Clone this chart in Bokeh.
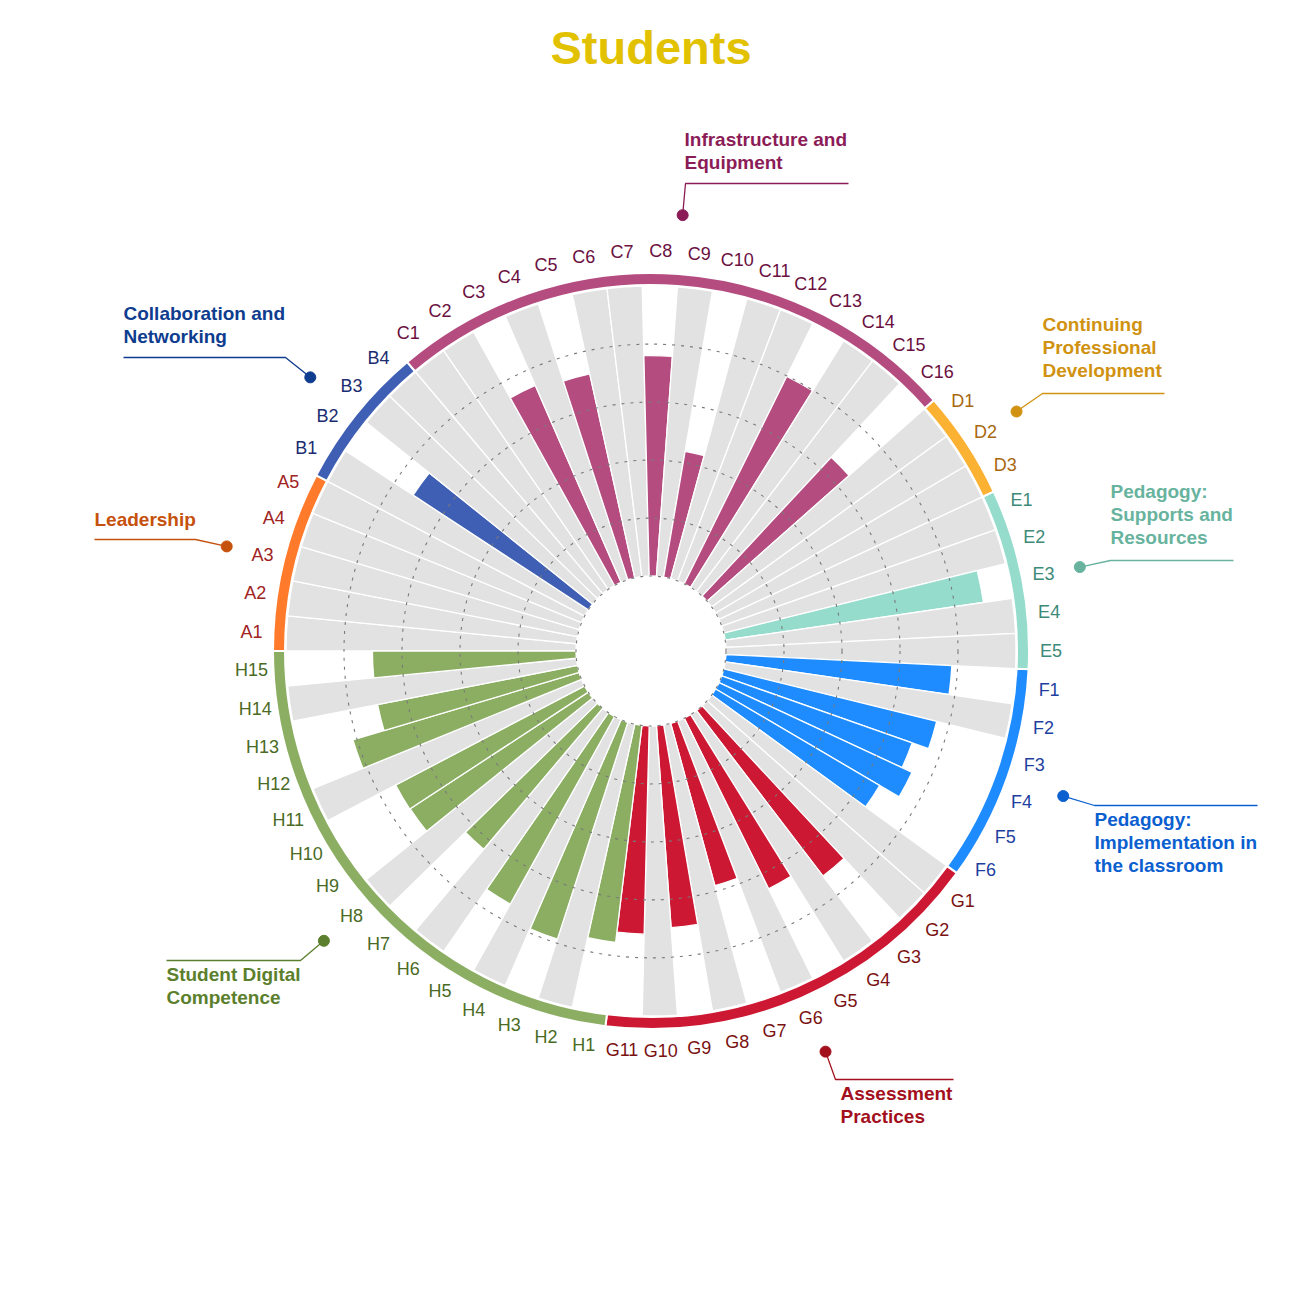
import math
from bokeh.plotting import figure
from bokeh.models import Range1d, ColumnDataSource
from bokeh.embed import file_html
from bokeh.resources import INLINE
from bokeh.core.properties import value

# ---------------- data ----------------
chart_title = "Students"
group_codes = ["A", "B", "C", "D", "E", "F", "G", "H"]
group_titles = [
    ["Leadership"],
    ["Collaboration and", "Networking"],
    ["Infrastructure and", "Equipment"],
    ["Continuing", "Professional", "Development"],
    ["Pedagogy:", "Supports and", "Resources"],
    ["Pedagogy:", "Implementation in", "the classroom"],
    ["Assessment", "Practices"],
    ["Student Digital", "Competence"],
]
# student scores on a 0-5 scale; None = item not answered by students (grey)
scores_A = [None, None, None, None, None]
scores_B = [None, 3.61, None, None]
scores_C = [None, None, 3.70, None, 3.60, None, None, 3.80, None, 2.20, None, None, 3.99, None, None, 3.27]
scores_D = [None, None, None]
scores_E = [None, None, 4.50, None, None]
scores_F = [3.90, None, 3.78, 3.48, 3.67, 3.28]
scores_G = [None, None, 3.59, None, 3.28, None, 2.90, None, 3.49, None, 3.59]
scores_H = [3.77, None, 3.93, None, 3.70, None, 3.18, None, 3.67, 3.68, None, 4.07, 3.51, None, 3.51]
scale_max = 5
grid_values = [0, 1, 2, 3, 4]

# ---------------- styles ----------------
ring_colors = ["#FF7B2B", "#3F5FB4", "#B44C80", "#FBB131", "#95DCCD", "#1E8CFF", "#CC1832", "#8BAE62"]
label_colors = ["#A0231E", "#1B2C70", "#6B1040", "#A8680F", "#3D8A78", "#1E3FA0", "#7A1212", "#4A6B25"]
title_colors = ["#C6510C", "#0E3C8E", "#8C1C57", "#D09210", "#67B39E", "#0B60D0", "#A30F1D", "#5B7F2C"]
grey_color = "#E2E2E2"
FONT = "Liberation Sans"

# callout layout (screen pixels, y down): elbow point, end x of the rule, text x, first text line y
callout_layout = {
    "A": ((195, 539), 94, 94, 519),
    "B": ((285, 357), 123, 123, 313),
    "C": ((685, 183), 848, 684, 139),
    "D": ((1042, 393), 1164, 1042, 324),
    "E": ((1110, 560), 1233, 1110, 491),
    "F": ((1094, 805), 1257, 1094, 819),
    "G": ((835, 1079), 953, 840, 1093),
    "H": ((300, 960), 166, 166, 974),
}

W = H = 1300
def Y(py):
    return H - py

cx, cy = 650.5, Y(650.5)
r0, r1 = 75.0, 365.0
unit = (r1 - r0) / scale_max
ring_in, ring_out = 366.0, 378.0
label_r = 400.0
dot_r = 437.0

all_scores = [scores_A, scores_B, scores_C, scores_D, scores_E, scores_F, scores_G, scores_H]
n = sum(len(s) for s in all_scores)
step = 2 * math.pi / n

p = figure(width=W, height=H, x_range=Range1d(0, W), y_range=Range1d(0, H),
           toolbar_location=None, output_backend="svg", min_border=0)
p.axis.visible = False
p.grid.visible = False
p.outline_line_color = None
p.background_fill_color = "white"

bars = dict(x=[], y=[], r_out=[], start=[], end=[], color=[])
labels = dict(x=[], y=[], text=[], color=[])
ring = dict(x=[], y=[], start=[], end=[], color=[])

idx = 0
group_ranges = []
for g, code in enumerate(group_codes):
    sc = all_scores[g]
    g_start = idx
    for k, s in enumerate(sc):
        a_hi = math.pi - idx * step
        a_lo = math.pi - (idx + 1) * step
        if s is None:
            rr = r1
            col = grey_color
        else:
            rr = r0 + s * unit
            col = ring_colors[g]
        bars["x"].append(cx); bars["y"].append(cy)
        bars["r_out"].append(rr)
        bars["start"].append(a_lo); bars["end"].append(a_hi)
        bars["color"].append(col)
        am = (a_lo + a_hi) / 2
        labels["x"].append(cx + label_r * math.cos(am))
        labels["y"].append(cy + label_r * math.sin(am))
        labels["text"].append(f"{code}{k+1}")
        labels["color"].append(label_colors[g])
        idx += 1
    group_ranges.append((g_start, idx))
    ring["x"].append(cx); ring["y"].append(cy)
    ring["start"].append(math.pi - idx * step)
    ring["end"].append(math.pi - g_start * step)
    ring["color"].append(ring_colors[g])

p.annular_wedge(x="x", y="y", inner_radius=r0, outer_radius="r_out", start_angle="start",
                end_angle="end", fill_color="color", line_color="white", line_width=1.3,
                source=ColumnDataSource(bars))

# dotted grid circles
p.circle(x=[cx] * len(grid_values), y=[cy] * len(grid_values),
         radius=[r0 + v * unit for v in grid_values], fill_color=None,
         line_color="#7A7A7A", line_dash="3 6", line_width=1.1)

# outer coloured ring
p.annular_wedge(x="x", y="y", inner_radius=ring_in, outer_radius=ring_out, start_angle="start",
                end_angle="end", fill_color="color", line_color="white", line_width=2,
                source=ColumnDataSource(ring))

# item labels
p.text(x="x", y="y", text="text", text_color="color", source=ColumnDataSource(labels),
       text_font=value(FONT), text_font_size=value("18px"), text_align="center",
       text_baseline="middle")

# group callouts
for g, code in enumerate(group_codes):
    s0, s1 = group_ranges[g]
    am = math.pi - (s0 + s1) / 2 * step
    dx = cx + dot_r * math.cos(am)
    dy = cy + dot_r * math.sin(am)
    (ex, ey), end_x, tx, ty0 = callout_layout[code]
    p.line(x=[dx, ex, end_x], y=[dy, Y(ey), Y(ey)], line_color=title_colors[g], line_width=1.3)
    p.scatter(x=[dx], y=[dy], size=11, marker="circle", fill_color=title_colors[g],
              line_color=title_colors[g])
    for j, line in enumerate(group_titles[g]):
        p.text(x=[tx], y=[Y(ty0 + j * 23)], text=[line], text_color=title_colors[g],
               text_font=value(FONT), text_font_style="bold", text_font_size=value("19px"),
               text_align="left", text_baseline="middle")

# chart title
p.text(x=[650.5], y=[Y(47)], text=[chart_title], text_color="#E2C200",
       text_font=value(FONT), text_font_style="bold", text_font_size=value("47px"),
       text_align="center", text_baseline="middle")

open("out.html", "w").write(file_html(p, INLINE))
